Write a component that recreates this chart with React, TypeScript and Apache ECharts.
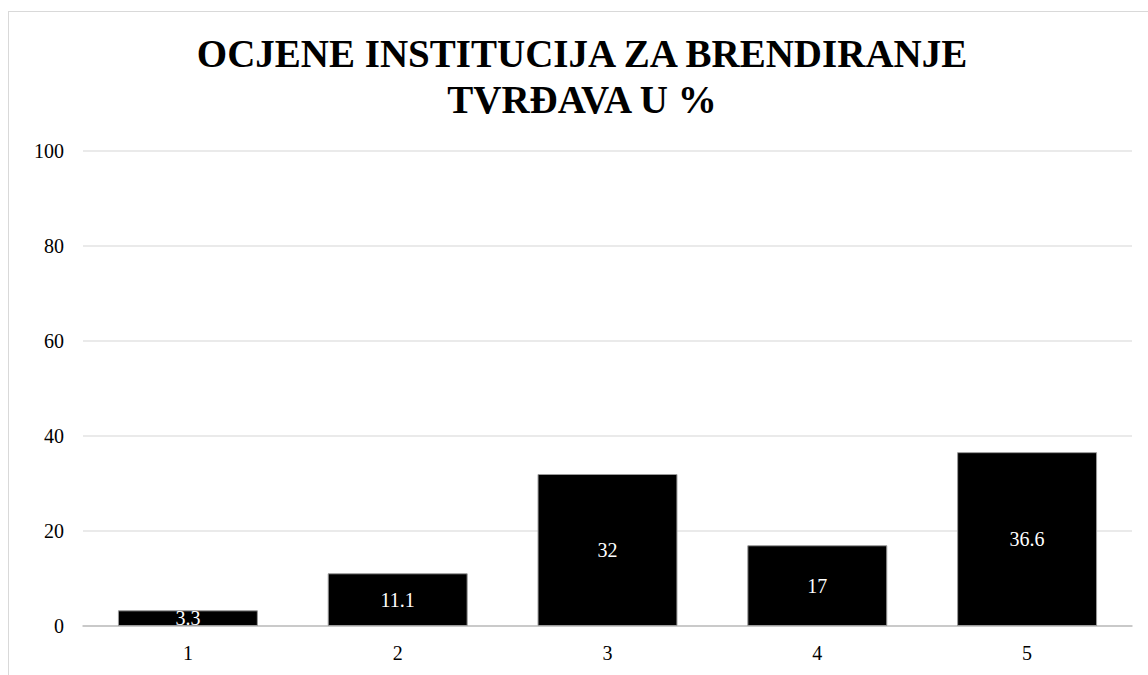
import React, { useEffect, useRef } from "react";
import * as echarts from "echarts";

const titleLines = ["OCJENE INSTITUCIJA ZA BRENDIRANJE", "TVRĐAVA U %"];
const categories = ["1", "2", "3", "4", "5"];
const values = [3.3, 11.1, 32, 17, 36.6];
const yTicks = { min: 0, max: 100, interval: 20 };

const FONT = "'Times New Roman', 'Liberation Serif', serif";

export default function App() {
  const ref = useRef<HTMLDivElement>(null);
  useEffect(() => {
    if (!ref.current) return;
    const chart = echarts.init(ref.current, undefined, { renderer: "svg" });
    chart.setOption({
      animation: false,
      backgroundColor: "#ffffff",
      title: {
        text: titleLines.join("\n"),
        left: 568,
        textAlign: "center",
        top: 13,
        textStyle: {
          fontFamily: FONT,
          fontWeight: "bold",
          fontSize: 39,
          lineHeight: 46,
          color: "#000000",
        },
      },
      grid: { left: 74, top: 139, width: 1049, height: 475 },
      xAxis: {
        type: "category",
        data: categories,
        axisLine: { lineStyle: { color: "#bfbfbf", width: 1.5 } },
        axisTick: { show: false },
        axisLabel: { fontFamily: FONT, fontSize: 20, color: "#000000", margin: 17 },
      },
      yAxis: {
        type: "value",
        min: yTicks.min,
        max: yTicks.max,
        interval: yTicks.interval,
        axisLine: { show: false },
        axisTick: { show: false },
        splitLine: { lineStyle: { color: "#e3e3e3", width: 1.5 } },
        axisLabel: { fontFamily: FONT, fontSize: 20, color: "#000000", margin: 19 },
      },
      series: [
        {
          type: "bar",
          data: values,
          barWidth: "66.7%",
          itemStyle: { color: "#000000", borderColor: "#9a9a9a", borderWidth: 1 },
          label: {
            show: true,
            position: "inside",
            fontFamily: FONT,
            fontSize: 20,
            color: "#ffffff",
          },
        },
      ],
    });
    return () => chart.dispose();
  }, []);
  return (
    <div
      style={{
        position: "absolute",
        left: 8,
        top: 11,
        width: 1160,
        height: 700,
        border: "1px solid #d9d9d9",
        background: "#fff",
      }}
    >
      <div ref={ref} style={{ width: 1160, height: 700 }} />
    </div>
  );
}
